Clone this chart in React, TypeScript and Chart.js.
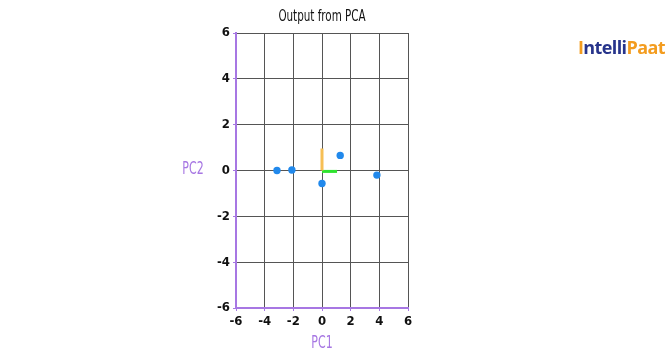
import React, { useEffect, useRef } from "react";
import { Chart, registerables } from "chart.js";

Chart.register(...registerables);

const pointsX = [-3.14, -2.1, 0.0, 1.27, 3.83];
const pointsY = [0.0, 0.02, -0.57, 0.66, -0.2];
const orangeX = [0, 0];
const orangeY = [0, 0.96];
const greenX = [0, 1.05];
const greenY = [-0.04, -0.04];
const tickValues = [-6, -4, -2, 0, 2, 4, 6];

const FONT = "'Liberation Sans Narrow', 'DejaVu Sans Condensed', sans-serif";
const PURPLE = "#a777e3";

function narrowText(ctx: any, text: string, x: number, y: number, sx: number) {
  ctx.save();
  ctx.translate(x, y);
  ctx.scale(sx, 1);
  ctx.fillText(text, 0, 0);
  ctx.restore();
}

const textPlugin = {
  id: "texts",
  afterDraw(chart: any) {
    const { ctx, chartArea } = chart;
    ctx.save();
    ctx.textAlign = "center";
    ctx.textBaseline = "middle";
    ctx.fillStyle = "#111";
    ctx.font = `16px ${FONT}`;
    narrowText(ctx, "Output from PCA", (chartArea.left + chartArea.right) / 2, 17, 0.72);
    ctx.fillStyle = PURPLE;
    ctx.font = `17px ${FONT}`;
    narrowText(ctx, "PC2", 193, (chartArea.top + chartArea.bottom) / 2 - 1, 0.72);
    narrowText(ctx, "PC1", (chartArea.left + chartArea.right) / 2, 344, 0.72);
    ctx.restore();
  },
};

export default function App() {
  const ref = useRef<HTMLCanvasElement | null>(null);
  useEffect(() => {
    document.body.style.margin = "0";
    const c = new Chart(ref.current as HTMLCanvasElement, {
      type: "scatter",
      data: {
        datasets: [
          {
            data: orangeX.map((x, i) => ({ x, y: orangeY[i] })),
            showLine: true,
            borderColor: "#f6bf55",
            borderWidth: 3,
            pointRadius: 0,
          },
          {
            data: greenX.map((x, i) => ({ x, y: greenY[i] })),
            showLine: true,
            borderColor: "#2ee32e",
            borderWidth: 3,
            pointRadius: 0,
          },
          {
            data: pointsX.map((x, i) => ({ x, y: pointsY[i] })),
            backgroundColor: "#2189ec",
            borderWidth: 0,
            pointRadius: 3.7,
          },
        ],
      },
      options: {
        animation: false,
        responsive: false,
        layout: { padding: { left: 200, right: 264, top: 33, bottom: 0 } },
        plugins: { legend: { display: false }, tooltip: { enabled: false } },
        scales: {
          x: {
            type: "linear",
            min: -6,
            max: 6,
            afterBuildTicks: (s: any) => {
              s.ticks = tickValues.map((v) => ({ value: v }));
            },
            afterFit: (s: any) => {
              s.height = 53;
            },
            ticks: { color: "#111", font: { family: FONT, size: 13, weight: "bold" }, padding: 3 },
            grid: { color: "#555", lineWidth: 1, tickLength: 3, tickColor: PURPLE },
            border: { color: PURPLE, width: 2 },
          },
          y: {
            type: "linear",
            min: -6,
            max: 6,
            afterBuildTicks: (s: any) => {
              s.ticks = tickValues.map((v) => ({ value: v }));
            },
            afterFit: (s: any) => {
              s.width = 36;
            },
            ticks: { color: "#111", font: { family: FONT, size: 13, weight: "bold" }, padding: 3 },
            grid: { color: "#555", lineWidth: 1, tickLength: 3, tickColor: PURPLE },
            border: { color: PURPLE, width: 2 },
          },
        },
      },
      plugins: [textPlugin],
    } as any);
    return () => c.destroy();
  }, []);
  return (
    <div style={{ position: "absolute", left: 0, top: 0, width: 672, height: 361, background: "#fff" }}>
      <canvas ref={ref} width={672} height={361} />
      <div
        style={{
          position: "absolute",
          left: 578,
          top: 35,
          fontFamily: "'Open Sans', sans-serif",
          fontWeight: 700,
          fontSize: 18,
          letterSpacing: -0.6,
          whiteSpace: "nowrap",
        }}
      >
        <span style={{ color: "#f39c1f" }}>I</span>
        <span style={{ color: "#27348b" }}>ntelli</span>
        <span style={{ color: "#f39c1f" }}>Paat</span>
      </div>
    </div>
  );
}
